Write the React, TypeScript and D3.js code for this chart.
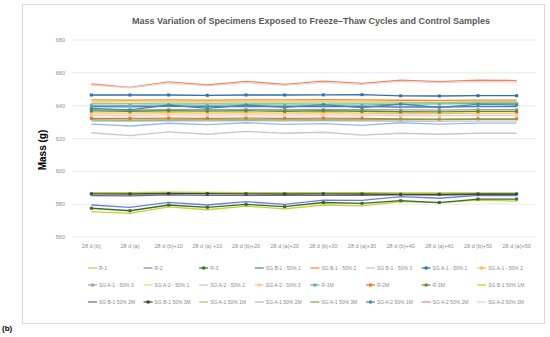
import * as d3 from "d3";

const categories = ["28 d (b)", "28 d (a)", "28 d (b)+10", "28 d (a) +10", "28 d (b)+20", "28 d (a)+20",
  "28 d (b)+30", "28 d (a)+30", "28 d (b)+40", "28 d (a)+40", "28 d (b)+50", "28 d (a)+50"];
const yTicks = [560, 580, 600, 620, 640, 660, 680];

// lower cluster
const r1 = [575.4, 574.4, 578.3, 576.6, 578.8, 577.1, 579.5, 578.9, 581.5, 580.9, 582.5, 581.9];
const r2 = [579.5, 578.1, 581.1, 579.5, 581.5, 579.9, 582.5, 582.3, 584.6, 583.6, 585.3, 585.2];
const r3 = [577.5, 576.0, 579.5, 578.1, 579.9, 578.5, 581.0, 580.5, 582.1, 581.0, 583.1, 583.1];
const sgB1_1M = [587.0, 587.0, 587.3, 587.2, 587.0, 587.0, 587.0, 587.0, 586.8, 586.8, 586.9, 586.9];
const sgB1_2M = [585.2, 585.1, 585.6, 585.4, 585.3, 585.3, 585.3, 585.3, 585.6, 585.5, 585.8, 585.8];
const sgB1_3M = [586.3, 586.2, 586.5, 586.4, 586.3, 586.2, 586.3, 586.2, 586.0, 586.0, 586.2, 586.2];

// upper cluster
const sgB1_1 = [639.4, 639.3, 639.6, 639.4, 639.5, 639.4, 639.5, 639.4, 639.2, 639.2, 639.4, 639.4];
const sgB1_2 = [643.5, 643.4, 643.5, 643.4, 643.5, 643.5, 643.6, 643.5, 643.3, 643.2, 643.4, 643.4];
const sgB1_3 = [623.5, 621.7, 624.0, 622.6, 624.3, 623.2, 623.8, 622.0, 623.2, 622.6, 623.2, 623.2];
const sgA1_1 = [646.5, 646.5, 646.5, 646.3, 646.5, 646.5, 646.6, 646.7, 646.0, 645.9, 646.1, 646.1];
const sgA1_2 = [635.6, 635.4, 635.7, 635.5, 635.7, 635.5, 635.7, 635.5, 635.2, 635.1, 635.4, 635.4];
const sgA1_3 = [637.6, 637.3, 637.8, 637.5, 637.8, 637.5, 637.7, 637.5, 637.4, 637.3, 637.6, 637.6];
const sgA2_1 = [642.4, 642.3, 642.5, 642.4, 642.5, 642.4, 642.5, 642.4, 642.3, 642.2, 642.4, 642.4];
const sgA2_2 = [630.6, 630.4, 630.8, 630.6, 630.8, 630.6, 630.8, 630.6, 630.5, 630.4, 630.6, 630.6];
const sgA2_3 = [634.3, 634.1, 634.4, 634.2, 634.4, 634.2, 634.4, 634.2, 634.0, 633.9, 634.1, 634.1];
const r1M = [640.3, 640.2, 640.5, 640.3, 640.5, 640.3, 640.5, 640.3, 641.0, 641.1, 641.2, 641.2];
const r2M = [632.3, 632.2, 632.4, 632.3, 632.4, 632.3, 632.4, 632.3, 631.9, 631.8, 632.0, 632.0];
const r3M = [636.8, 636.6, 636.9, 636.7, 636.9, 636.6, 636.9, 636.6, 636.3, 636.2, 636.5, 636.5];
const sgA1_1M = [641.4, 641.3, 641.5, 641.4, 641.5, 641.4, 641.5, 641.4, 641.7, 641.8, 642.0, 642.0];
const sgA1_2M = [628.7, 627.6, 629.3, 628.4, 629.6, 628.6, 629.0, 628.0, 629.6, 628.8, 629.4, 629.4];
const sgA1_3M = [631.3, 631.2, 631.4, 631.3, 631.4, 631.3, 631.4, 631.3, 631.5, 631.5, 631.6, 631.6];
const sgA2_1M = [638.4, 637.4, 640.4, 638.4, 640.4, 638.9, 640.6, 638.8, 641.0, 639.0, 640.8, 640.4];
const sgA2_2M = [653.2, 651.2, 654.5, 652.6, 654.8, 653.0, 655.0, 653.6, 655.6, 654.6, 655.6, 655.3];
const sgA2_3M = [652.6, 650.8, 653.8, 652.0, 654.0, 652.4, 654.2, 653.0, 654.8, 654.0, 654.6, 654.4];

const series = [
  { name: "R-1", values: r1, color: "#c9d12b", marker: false },
  { name: "R-2", values: r2, color: "#6f80d4", marker: false },
  { name: "R-3", values: r3, color: "#3a6b2c", marker: true },
  { name: "SG B-1 - 50% 1", values: sgB1_1, color: "#4a78c2", marker: false },
  { name: "SG B-1 - 50% 2", values: sgB1_2, color: "#ed8a3c", marker: false },
  { name: "SG B-1 - 50% 3", values: sgB1_3, color: "#c8c8c8", marker: false },
  { name: "SG A-1 - 50% 1", values: sgA1_1, color: "#2f6fb0", marker: true },
  { name: "SG A-1 - 50% 2", values: sgA1_2, color: "#f2c14e", marker: true },
  { name: "SG A-1 - 50% 3", values: sgA1_3, color: "#a0a0a0", marker: true },
  { name: "SG A-2 - 50% 1", values: sgA2_1, color: "#f5d36b", marker: false },
  { name: "SG A-2 - 50% 2", values: sgA2_2, color: "#c7c3e6", marker: false },
  { name: "SG A-2 - 50% 3", values: sgA2_3, color: "#f7c9a6", marker: true },
  { name: "R-1M", values: r1M, color: "#6fa8b8", marker: true },
  { name: "R-2M", values: r2M, color: "#f26c2a", marker: true },
  { name: "R-3M", values: r3M, color: "#5e8a3a", marker: true },
  { name: "SG B-1 50% 1M", values: sgB1_1M, color: "#c6cc1f", marker: false },
  { name: "SG B-1 50% 2M", values: sgB1_2M, color: "#6b5fa8", marker: false },
  { name: "SG B-1 50% 3M", values: sgB1_3M, color: "#2f4f2f", marker: true },
  { name: "SG A-1 50% 1M", values: sgA1_1M, color: "#9ccb7c", marker: false },
  { name: "SG A-1 50% 2M", values: sgA1_2M, color: "#9dbbe0", marker: false },
  { name: "SG A-1 50% 3M", values: sgA1_3M, color: "#6aae4a", marker: false },
  { name: "SG A-2 50% 1M", values: sgA2_1M, color: "#3d8fa8", marker: true },
  { name: "SG A-2 50% 2M", values: sgA2_2M, color: "#e8837a", marker: false },
  { name: "SG A-2 50% 3M", values: sgA2_3M, color: "#f3d2b8", marker: false },
];

const W = 550, H = 337;
const plot = { left: 72, right: 536, top: 40, bottom: 237 };
const font = "'Liberation Sans', Arial, sans-serif";
const txt = "#595959";

export default function App() {
  const x = d3.scaleBand().domain(categories).range([plot.left, plot.right]);
  const y = d3.scaleLinear().domain([560, 680]).range([plot.bottom, plot.top]);
  const cx = (c: string) => (x(c) as number) + x.bandwidth() / 2;
  const line = d3.line<number>().x((_, i) => cx(categories[i])).y((v) => y(v));

  const legCols = 8;
  const legX0 = 88, legStep = 55.6, legY0 = 268, legRow = 17;

  return (
    <svg width={W} height={H} style={{ position: "absolute", left: 0, top: 0, fontFamily: font }}>
      <rect x={0} y={0} width={W} height={H} fill="#fff" />
      <rect x={22.5} y={4.5} width={522} height={319} fill="#fff" stroke="#d9d9d9" />
      <text x={311} y={24} textAnchor="middle" fontSize={9} fontWeight="bold" fill={txt}>
        Mass Variation of Specimens Exposed to Freeze–Thaw Cycles and Control Samples
      </text>
      {yTicks.map((t) => (
        <g key={t}>
          <line x1={plot.left} x2={plot.right} y1={y(t)} y2={y(t)} stroke="#e3e3e3" strokeWidth={0.8} />
          <text x={65} y={y(t) + 2} textAnchor="end" fontSize={5.5} fill="#8c8c8c">{t}</text>
        </g>
      ))}
      <text transform={`translate(46,150) rotate(-90)`} textAnchor="middle" fontSize={10} fontWeight="bold" fill="#000">
        Mass (g)
      </text>
      {categories.map((c) => (
        <text key={c} x={cx(c)} y={248} textAnchor="middle" fontSize={5.5} fill="#8c8c8c">{c}</text>
      ))}
      {series.map((s) => (
        <g key={s.name}>
          <path d={line(s.values) as string} fill="none" stroke={s.color} strokeWidth={1.3} />
          {s.marker && s.values.map((v, i) => (
            <rect key={i} x={cx(categories[i]) - 1.5} y={y(v) - 1.5} width={3} height={3} fill={s.color} />
          ))}
        </g>
      ))}
      {series.map((s, i) => {
        const lx = legX0 + (i % legCols) * legStep;
        const ly = legY0 + Math.floor(i / legCols) * legRow;
        return (
          <g key={"leg" + s.name}>
            <line x1={lx} x2={lx + 9} y1={ly} y2={ly} stroke={s.color} strokeWidth={1.2} />
            {s.marker && <rect x={lx + 3} y={ly - 1.5} width={3} height={3} fill={s.color} />}
            <text x={lx + 11} y={ly + 2} fontSize={5} fill="#8c8c8c">{s.name}</text>
          </g>
        );
      })}
      <text x={2} y={331} fontSize={8} fontWeight="bold" fill="#000">(b)</text>
    </svg>
  );
}
